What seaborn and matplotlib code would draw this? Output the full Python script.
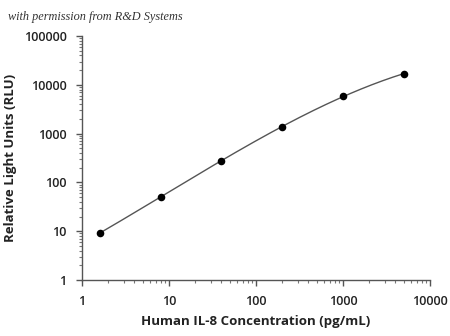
import numpy as np
import pandas as pd
import matplotlib
matplotlib.use("Agg")
import matplotlib.pyplot as plt
from matplotlib.ticker import LogLocator, FixedLocator, NullFormatter
import seaborn as sns

# Standard curve: IL-8 concentration vs. luminescence
concentration = [1.6, 8, 40, 200, 1000, 5000]
rlu = [9.1, 51, 280, 1350, 5900, 16800]
x_ticks = [1, 10, 100, 1000, 10000]
y_ticks = [1, 10, 100, 1000, 10000, 100000]

df = pd.DataFrame({"conc": concentration, "rlu": rlu})

# Smooth fitted curve in log-log space
lx = np.log10(df["conc"])
ly = np.log10(df["rlu"])
coef = np.polyfit(lx, ly, 3)
gx = np.linspace(lx.min(), lx.max(), 200)
fit = pd.DataFrame({"conc": 10 ** gx, "rlu": 10 ** np.polyval(coef, gx)})

sns.set_style("white")
plt.rcParams["font.family"] = ["Open Sans", "DejaVu Sans"]

fig = plt.figure(figsize=(4.5, 3.36), dpi=100)
ax = fig.add_axes([82 / 450, 1 - 280 / 336, (430 - 82) / 450, (280 - 36) / 336])

sns.lineplot(data=fit, x="conc", y="rlu", ax=ax, color="#555555", linewidth=1.0)
sns.scatterplot(data=df, x="conc", y="rlu", ax=ax, color="black", s=30,
                edgecolor="black", linewidth=0, zorder=3)

ax.set_xscale("log")
ax.set_yscale("log")
ax.set_xlim(1, 10000)
ax.set_ylim(1, 100000)

ax.xaxis.set_major_locator(FixedLocator(x_ticks))
ax.yaxis.set_major_locator(FixedLocator(y_ticks))
ax.set_xticklabels([str(v) for v in x_ticks])
ax.set_yticklabels([str(v) for v in y_ticks])
ax.xaxis.set_minor_locator(LogLocator(base=10, subs=np.arange(2, 10)))
ax.yaxis.set_minor_locator(LogLocator(base=10, subs=np.arange(2, 10)))
ax.xaxis.set_minor_formatter(NullFormatter())
ax.yaxis.set_minor_formatter(NullFormatter())

for side in ["top", "right"]:
    ax.spines[side].set_visible(False)
for side in ["left", "bottom"]:
    ax.spines[side].set_color("#555555")
    ax.spines[side].set_linewidth(1.0)

ax.tick_params(which="major", direction="out", length=4, width=1, color="#555555",
               labelsize=9, pad=7, bottom=True, left=True)
ax.tick_params(which="minor", direction="out", length=2, width=0.8, color="#777777",
               bottom=True, left=True)
for lbl in ax.get_xticklabels() + ax.get_yticklabels():
    lbl.set_fontweight("semibold")
    lbl.set_color("#222222")

ax.set_xlabel("Human IL-8 Concentration (pg/mL)", fontsize=9.5, fontweight="bold",
              color="#222222", labelpad=5)
ax.set_ylabel("Relative Light Units (RLU)", fontsize=9.5, fontweight="bold",
              color="#222222", labelpad=5)

fig.text(8 / 450, 1 - 17 / 336, "with permission from R&D Systems", fontsize=8.8,
         style="italic", family="Liberation Serif", color="#333333", va="center")

fig.savefig("out.png", dpi=100)
